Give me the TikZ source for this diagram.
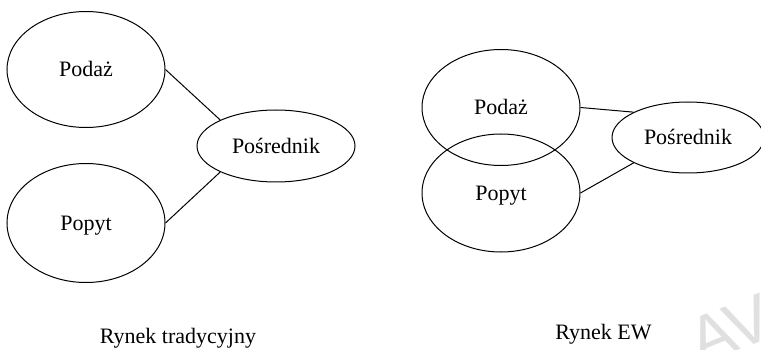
\documentclass[tikz,border=0pt]{standalone}
\usepackage{fontspec}
\setmainfont{Liberation Serif}
\newfontfamily\wmfont{Liberation Sans}
\usetikzlibrary{shapes.geometric}
\begin{document}
\begin{tikzpicture}[x=1pt,y=-1pt,
  every node/.style={font=\fontsize{22}{26}\selectfont},
  market/.style={draw,ellipse,line width=1pt,inner sep=0pt,
    minimum width=158pt,minimum height=116pt,text height=15pt,text depth=0pt},
  broker/.style={market,minimum height=72pt},
  link/.style={line width=1pt},
  caption/.style={anchor=base,inner sep=0pt}]
\useasboundingbox[fill=white] (0,0) rectangle (761,350);

% traditional market
\node[market] (s1) at (86,69.5) {Podaż};
\node[market,minimum height=119pt] (d1) at (86,223) {Popyt};
\node[broker] (p1) at (276,146) {Pośrednik};
\draw[link] (s1.east) -- (p1.155);
\draw[link] (d1.east) -- (p1.205);
\node[caption] (c1) at (178,343) {Rynek tradycyjny};

% electronic market
\node[market] (s2) at (501,107.5) {Podaż};
\node[market,minimum height=118pt] (d2) at (501,193) {Popyt};
\node[broker,minimum width=152pt,minimum height=71pt] (p2) at (688,137.5) {Pośrednik};
\draw[link] (s2.east) -- (p2.155);
\draw[link] (d2.east) -- (p2.205);
\node[caption] (c2) at (603.5,339) {Rynek EW};

% watermark
\node[rotate=22,anchor=base west,inner sep=0pt,text=black!12,
  font=\wmfont\fontsize{66}{66}\selectfont] (wm) at (700,366) {AV};
\end{tikzpicture}
\end{document}
